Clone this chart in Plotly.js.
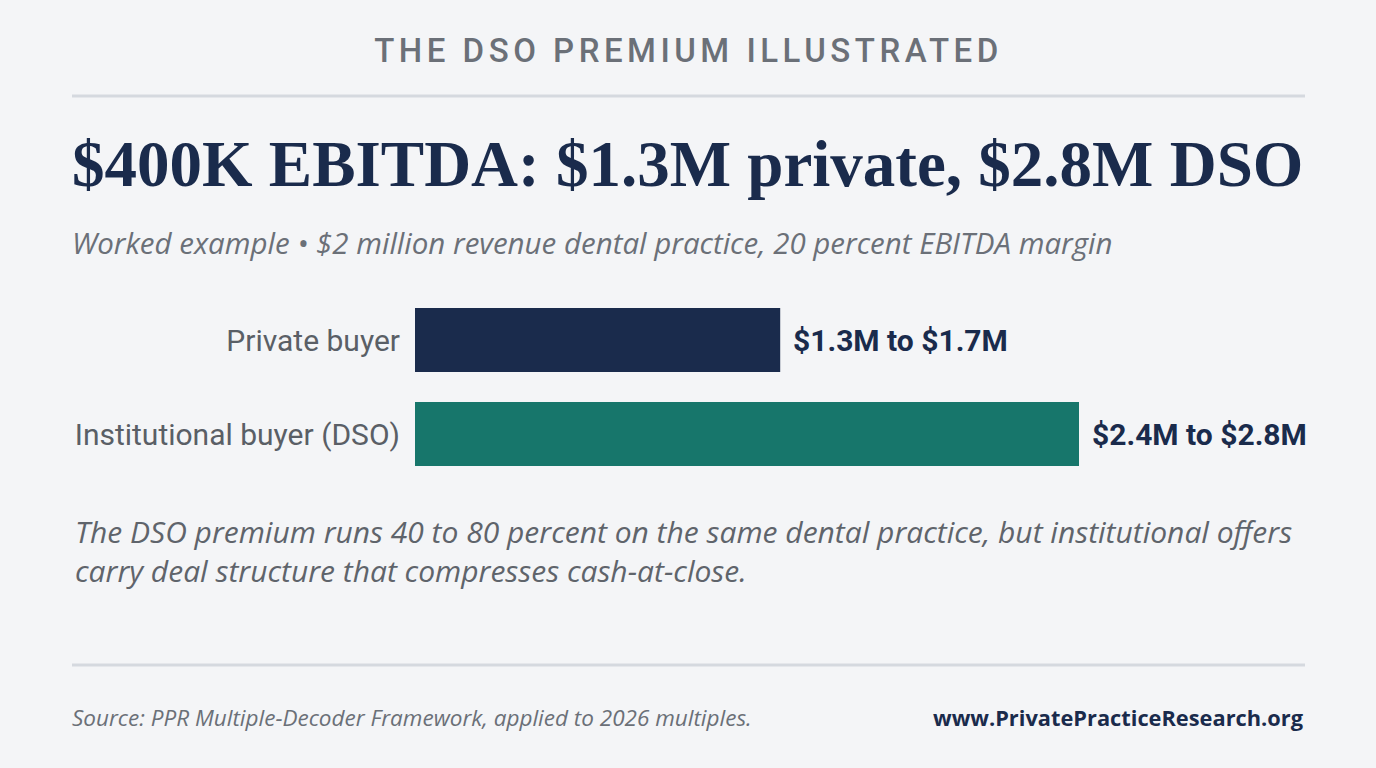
<!DOCTYPE html>
<html>
<head>
<meta charset="utf-8">
<script src="https://cdn.plot.ly/plotly-3.0.1.min.js"></script>
<style>
  html, body { margin: 0; padding: 0; background: #f4f5f7; }
  #chart { width: 1376px; height: 768px; }
</style>
</head>
<body>
<div id="chart"></div>
<script>
// buyer types, top to bottom
const buyers = ['Private buyer', 'Institutional buyer (DSO)'];
// bar length, $M
const values = [1.32, 2.4];
const rangeLabels = ['$1.3M to $1.7M', '$2.4M to $2.8M'];
const barColors = ['#1a2b4c', '#17766b'];

const navy = '#1a2b4c';
const grey = '#6b7078';

const W = 1376, H = 768;
const M = { l: 415, r: 48, t: 293, b: 287 };
const plotW = W - M.l - M.r, plotH = H - M.t - M.b;
// figure pixels -> paper coords (paper = plot area)
function px(x) { return (x - M.l) / plotW; }
function py(y) { return (H - M.b - y) / plotH; }

const trace = {
    type: 'bar',
    orientation: 'h',
    y: buyers,
    x: values,
    marker: { color: barColors },
    width: 0.68,
    hoverinfo: 'skip',
    cliponaxis: false
};

const annotations = [];
buyers.forEach((b, i) => {
    annotations.push({
        x: values[i], y: b, xref: 'x', yref: 'y',
        text: rangeLabels[i], showarrow: false,
        xanchor: 'left', xshift: 11,
        font: { family: 'Roboto', size: 30, color: navy, weight: 700 }
    });
});

annotations.push(
    { xref: 'paper', yref: 'paper', x: px(688), y: py(50), xanchor: 'center', yanchor: 'middle',
      text: 'THE DSO PREMIUM ILLUSTRATED', showarrow: false,
      font: { family: 'Roboto', size: 33, color: grey, weight: 500 } },
    { xref: 'paper', yref: 'paper', x: px(70), y: py(164), xanchor: 'left', yanchor: 'middle',
      text: '$400K EBITDA: $1.3M private, $2.8M DSO', showarrow: false,
      font: { family: 'Liberation Serif', size: 65, color: navy, weight: 700 } },
    { xref: 'paper', yref: 'paper', x: px(70), y: py(242), xanchor: 'left', yanchor: 'middle',
      text: 'Worked example • $2 million revenue dental practice, 20 percent EBITDA margin', showarrow: false,
      font: { family: 'Open Sans', size: 29.5, color: grey, style: 'italic' } },
    { xref: 'paper', yref: 'paper', x: px(73), y: py(551), xanchor: 'left', yanchor: 'middle', align: 'left',
      text: 'The DSO premium runs 40 to 80 percent on the same dental practice, but institutional offers<br>carry deal structure that compresses cash-at-close.', showarrow: false,
      font: { family: 'Open Sans', size: 30, color: '#5f646b', style: 'italic' } },
    { xref: 'paper', yref: 'paper', x: px(70), y: py(717), xanchor: 'left', yanchor: 'middle',
      text: 'Source: PPR Multiple-Decoder Framework, applied to 2026 multiples.', showarrow: false,
      font: { family: 'Open Sans', size: 22.5, color: grey, style: 'italic' } },
    { xref: 'paper', yref: 'paper', x: px(1306), y: py(717), xanchor: 'right', yanchor: 'middle',
      text: 'www.PrivatePracticeResearch.org', showarrow: false,
      font: { family: 'Open Sans', size: 21.8, color: navy, weight: 700 } }
);

const shapes = [
    { type: 'line', xref: 'paper', yref: 'paper', x0: px(72), x1: px(1305), y0: py(96), y1: py(96),
      line: { color: '#d5d9df', width: 3 } },
    { type: 'line', xref: 'paper', yref: 'paper', x0: px(72), x1: px(1305), y0: py(665), y1: py(665),
      line: { color: '#d5d9df', width: 3 } }
];

const layout = {
    width: W, height: H,
    paper_bgcolor: '#f4f5f7',
    plot_bgcolor: 'rgba(0,0,0,0)',
    margin: M,
    showlegend: false,
    xaxis: { range: [0, 3.3], visible: false, fixedrange: true },
    yaxis: {
        autorange: 'reversed', showgrid: false, zeroline: false, showline: false,
        ticks: '', ticklabelstandoff: 14,
        tickfont: { family: 'Roboto', size: 30, color: '#5a5f66' }
    },
    annotations: annotations,
    shapes: shapes
};

Plotly.newPlot('chart', [trace], layout, { displayModeBar: false, staticPlot: true }).then(() => {
    // letter spacing for the kicker line
    document.querySelectorAll('.annotation-text').forEach(t => {
        if (t.textContent === 'THE DSO PREMIUM ILLUSTRATED') t.style.letterSpacing = '4.5px';
    });
});
</script>
</body>
</html>
